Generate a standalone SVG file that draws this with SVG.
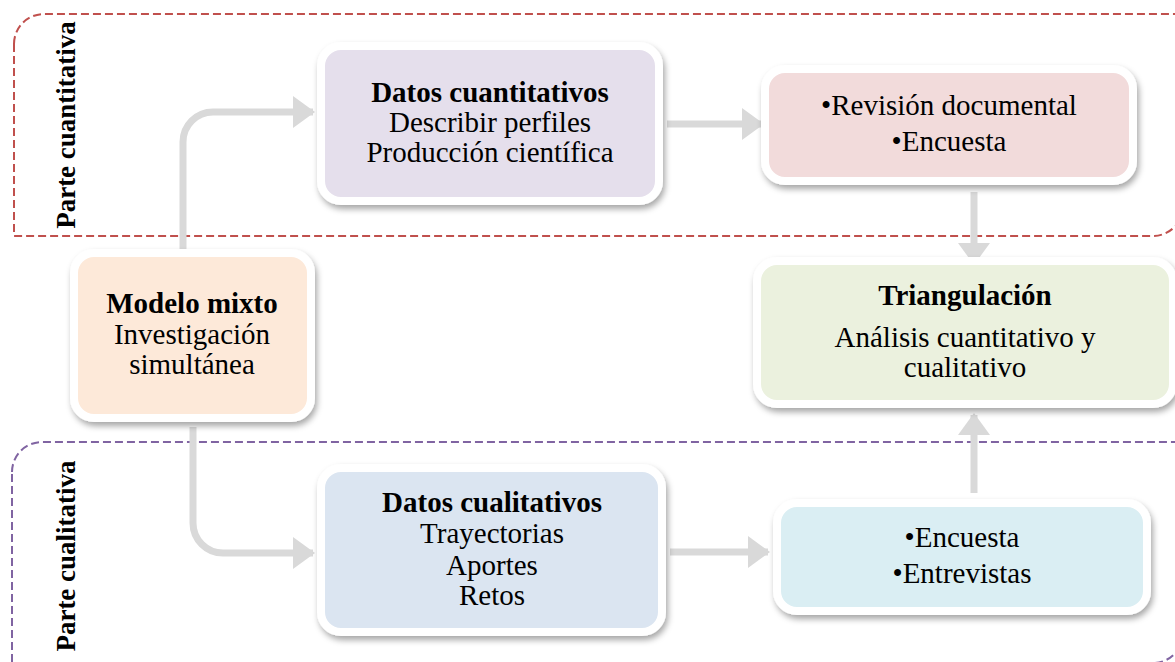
<svg xmlns="http://www.w3.org/2000/svg" width="1175" height="662" viewBox="0 0 1175 662">
  <style>
    .frame { fill: none; stroke-width: 2; stroke-dasharray: 8 4; }
    .lbl { font-family: "Liberation Serif", "Times New Roman", serif; font-size: 27px; font-weight: bold; fill: #000; }
    .conn { fill: none; stroke: #D9D9D9; stroke-width: 7; }
    .box { stroke: #FFFFFF; stroke-width: 8; filter: url(#shadow); }
    .t { font-family: "Liberation Serif", "Times New Roman", serif; font-size: 29px; fill: #000; text-anchor: middle; }
    .b { font-weight: bold; }
  </style>
  <defs>
    <filter id="shadow" x="-10%" y="-10%" width="125%" height="135%">
      <feDropShadow dx="2" dy="4" stdDeviation="3" flood-color="#000" flood-opacity="0.35"/>
    </filter>
    <marker id="arrow" markerUnits="userSpaceOnUse" markerWidth="22" markerHeight="32" refX="20" refY="16" orient="auto" viewBox="0 0 22 32">
      <path d="M0,0 L22,16 L0,32 Z" fill="#D9D9D9"/>
    </marker>
  </defs>
  <rect width="1175" height="662" fill="#FFFFFF"/>

  <g id="frame-cuantitativa">
    <path class="frame" stroke="#C0504D" d="M14,44 A30,30 0 0 1 44,14 H1183 V206 A30,30 0 0 1 1153,236 H14 Z"/>
    <text class="lbl" text-anchor="middle" transform="translate(75,125) rotate(-90)">Parte cuantitativa</text>
  </g>
  <g id="frame-cualitativa">
    <path class="frame" stroke="#8064A2" d="M12,472 A30,30 0 0 1 42,442 H1183 V633 A30,30 0 0 1 1153,663 H12 Z"/>
    <text class="lbl" text-anchor="middle" transform="translate(75,556) rotate(-90)">Parte cualitativa</text>
  </g>

  <g id="connectors">
    <path class="conn" marker-end="url(#arrow)" d="M183,252 V142 A30,30 0 0 1 213,112 H313"/>
    <path class="conn" marker-end="url(#arrow)" d="M193,427 V523 A30,30 0 0 0 223,553 H313"/>
    <path class="conn" marker-end="url(#arrow)" d="M667,124 H762"/>
    <path class="conn" marker-end="url(#arrow)" d="M974,192 V263"/>
    <path class="conn" marker-end="url(#arrow)" d="M670,552 H768"/>
    <path class="conn" marker-end="url(#arrow)" d="M974,493 V415"/>
  </g>

  <g id="modelo-mixto">
    <rect class="box" x="74" y="253" width="237" height="165" rx="20" fill="#FDE9D9"/>
    <text class="t b" x="192" y="313">Modelo mixto</text>
    <text class="t" x="192" y="344">Investigación</text>
    <text class="t" x="192" y="374">simultánea</text>
  </g>

  <g id="datos-cuantitativos">
    <rect class="box" x="321" y="46" width="338" height="155" rx="20" fill="#E5DFEC"/>
    <text class="t b" x="490" y="102">Datos cuantitativos</text>
    <text class="t" x="490" y="132">Describir perfiles</text>
    <text class="t" x="490" y="162">Producción científica</text>
  </g>

  <g id="revision-encuesta">
    <rect class="box" x="765" y="69" width="368" height="112" rx="20" fill="#F2DBDB"/>
    <text class="t" x="949" y="115">•Revisión documental</text>
    <text class="t" x="949" y="151">•Encuesta</text>
  </g>

  <g id="triangulacion">
    <rect class="box" x="757" y="261" width="416" height="143" rx="20" fill="#EBF1DE"/>
    <text class="t b" x="965" y="305">Triangulación</text>
    <text class="t" x="965" y="347">Análisis cuantitativo y</text>
    <text class="t" x="965" y="377">cualitativo</text>
  </g>

  <g id="datos-cualitativos">
    <rect class="box" x="321" y="468" width="341" height="164" rx="20" fill="#DBE5F1"/>
    <text class="t b" x="492" y="512">Datos cualitativos</text>
    <text class="t" x="492" y="543">Trayectorias</text>
    <text class="t" x="492" y="575">Aportes</text>
    <text class="t" x="492" y="605">Retos</text>
  </g>

  <g id="encuesta-entrevistas">
    <rect class="box" x="777" y="503" width="370" height="108" rx="20" fill="#DAEEF3"/>
    <text class="t" x="962" y="547">•Encuesta</text>
    <text class="t" x="962" y="583">•Entrevistas</text>
  </g>
</svg>
